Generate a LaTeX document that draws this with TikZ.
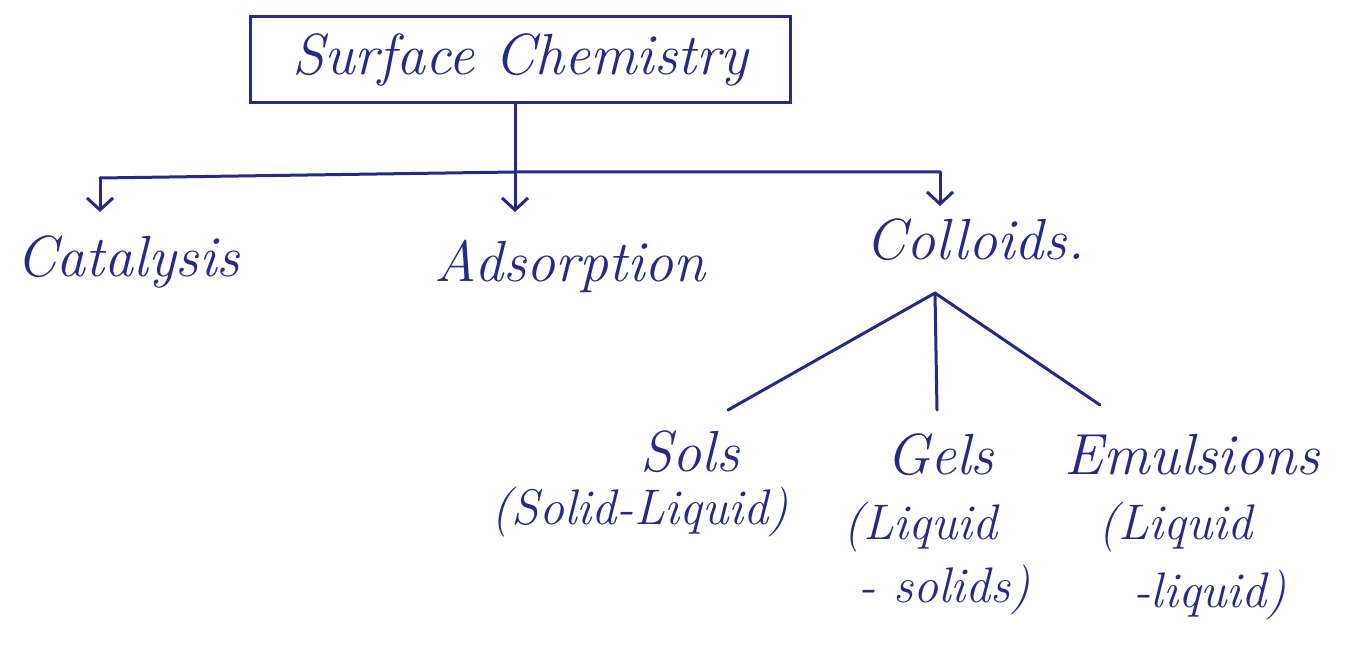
\documentclass[tikz,border=0pt]{standalone}
\usetikzlibrary{arrows.meta}
\definecolor{ink}{RGB}{38,42,135}
\begin{document}
\begin{tikzpicture}[x=1pt,y=-1pt,
  ink line/.style={draw=ink,line width=3pt,line cap=round,line join=round},
  arrowline/.style={ink line,-{Straight Barb[length=12pt,width=26pt,line width=3pt]}},
  label/.style={text=ink,inner sep=0pt,font=\fontsize{58}{64}\selectfont\itshape},
  sublabel/.style={text=ink,inner sep=0pt,font=\fontsize{50}{56}\selectfont\itshape}]
\useasboundingbox[fill=white] (0,0) rectangle (1348,647);
% title
\node[label,draw=ink,line width=3pt,minimum width=540pt,minimum height=86pt] (title) at (520,60) {Surface Chemistry};
% first level
\node[label] (cat) at (128,262) {Catalysis};
\node[label] (ads) at (570,266) {Adsorption};
\node[label] (col) at (975,240) {Colloids.};
\coordinate (jn) at (515,172);
\coordinate (lt) at (100,178);
\coordinate (rt) at (940,172);
\coordinate (lte) at (100,212);
\coordinate (jne) at (515,212);
\coordinate (rte) at (940,206);
\draw[ink line] (lt) -- (jn) -- (rt);
\draw[arrowline] (title.south -| jn) -- (jne);
\draw[arrowline] (lt) -- (lte);
\draw[arrowline] (rt) -- (rte);
% second level
\node[label] (sols) at (690,452) {Sols};
\node[sublabel] (solsd) at (640,512) {(Solid-Liquid)};
\node[label] (gels) at (940,455) {Gels};
\node[sublabel,anchor=west] (gelsa) at (843,527) {(Liquid};
\node[sublabel,anchor=west] (gelsb) at (858,590) {- solids)};
\node[label] (emul) at (1192,455) {Emulsions};
\node[sublabel,anchor=west] (emula) at (1098,527) {(Liquid};
\node[sublabel,anchor=west] (emulb) at (1133,595) {-liquid)};
\coordinate (apex) at (935,293);
\coordinate (e1) at (728,410);
\coordinate (e2) at (937,410);
\coordinate (e3) at (1100,405);
\draw[ink line] (e1) -- (apex) -- (e3);
\draw[ink line] (apex) -- (e2);
\end{tikzpicture}
\end{document}
